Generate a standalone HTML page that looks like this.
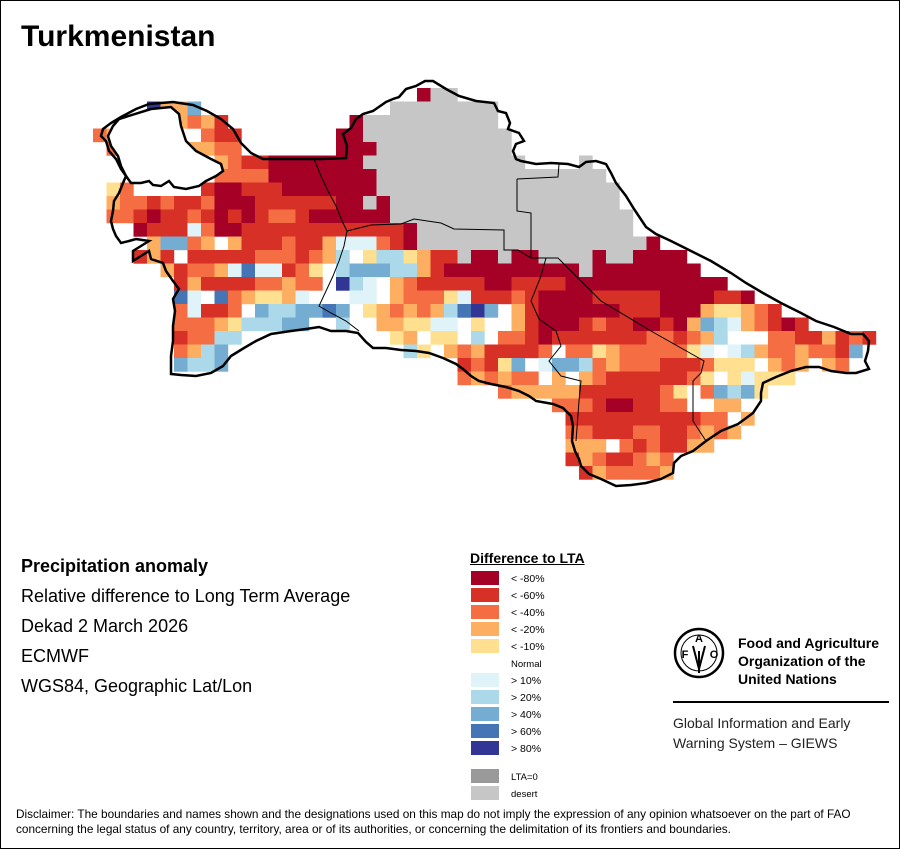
<!DOCTYPE html>
<html><head><meta charset="utf-8">
<style>
html,body{margin:0;padding:0;background:#fff;}
#wrap{position:relative;width:898px;height:847px;border:1px solid #000;overflow:hidden;font-family:"Liberation Sans",sans-serif;}
.t{position:absolute;white-space:nowrap;color:#000;}
</style></head><body>
<div id="wrap">
<svg id="map" width="898" height="847" style="position:absolute;left:0;top:0"></svg>
<div class="t" style="left:20px;top:19px;font-size:30px;font-weight:bold;">Turkmenistan</div>
<div class="t" style="left:20px;top:555px;font-size:18px;font-weight:bold;">Precipitation anomaly</div>
<div class="t" style="left:20px;top:585px;font-size:18px;">Relative difference to Long Term Average</div>
<div class="t" style="left:20px;top:615px;font-size:18px;">Dekad 2 March 2026</div>
<div class="t" style="left:20px;top:645px;font-size:18px;">ECMWF</div>
<div class="t" style="left:20px;top:675px;font-size:18px;">WGS84, Geographic Lat/Lon</div>
<div class="t" style="left:469px;top:549px;font-size:14px;font-weight:bold;text-decoration:underline;">Difference to LTA</div>
<div class="t" style="left:737px;top:633px;font-size:14px;font-weight:bold;line-height:18px;">Food and Agriculture<br>Organization of the<br>United Nations</div>
<div style="position:absolute;left:672px;top:700px;width:216px;height:2px;background:#000;"></div>
<div class="t" style="left:672px;top:712px;font-size:14px;line-height:20px;color:#222;">Global Information and Early<br>Warning System – GIEWS</div>
<div class="t" style="left:15px;top:806px;font-size:11.8px;line-height:15px;">Disclaimer: The boundaries and names shown and the designations used on this map do not imply the expression of any opinion whatsoever on the part of FAO<br>concerning the legal status of any country, territory, area or of its authorities, or concerning the delimitation of its frontiers and boundaries.</div>
</div>
<script>
var C={D:"#a50026",R:"#d73027",O:"#f46d43",o:"#fdae61",y:"#fee090",N:"#ffffff",l:"#e0f3f8",b:"#abd9e9",m:"#74add1",B:"#4575b4",V:"#313695",g:"#c6c6c6",G:"#999999"};
var S=[
[0,24,"Dgg"],
[1,4,"Voom"],[1,22,"gggggggg"],
[2,5,"ooOoR"],[2,19,"Dgggggggggg"],
[3,0,"Oo"],[3,8,"ORR"],[3,18,"DDggggggggggg"],
[4,1,"O"],[4,7,"ooOO"],[4,18,"DDDgggggggggg"],
[5,9,"oORRDDDDDDD"],[5,20,"gggggggggggg"],[5,36,"g"],
[6,9,"OOOODDDDDDDD"],[6,21,"ggggggggggggggggg"],
[7,1,"yO"],[7,8,"RDDRRRDDDDDDD"],[7,21,"gggggggggggggggggg"],
[8,1,"oOORORRODDDRRRRRRDDgD"],[8,22,"ggggggggggggggggg"],
[9,1,"OORDRRORDRDROORDDDDDD"],[9,22,"gggggggggggggggggg"],
[10,3,"DRRRlODDRRRRRRRRRRRRD"],[10,24,"gggggggggggggggg"],
[11,4,"ommOoNoRRRORRolllORD"],[11,24,"ggggggggggggggggg"],[11,41,"D"],
[12,3,"RoRNRRRRROOOROobLybbyoRRgDDgDDggggDggDDDD"],
[13,5,"oROOolBllROyNbmmmbboRDDDDDDDDDDgDDDDDDDD"],
[14,6,"RoRRRROOoOONVblNoORRRRRDDRRRRDDDDDDDDDDDD"],
[15,6,"BlNBOoyyolNNNllNoOOOylRRRORDDDDRRRRRDDDDRRD"],
[16,6,"OlRRONmbbmmBmNyoOoOobBVmNoRDDDDDDRRRDDDoyyoOR"],
[17,6,"OOOoybbbmmNNbNNooyyllNyNNoRDDDRORRDDRDombloORDR"],
[18,6,"ROObb"],[18,22,"yoNyyNbNOORDRRRRRRROOROobNNNOORRoROR"],
[19,6,"Oobm"],[19,23,"byNoOoRRRRONOOyoOOOOOylNlboOOoOORm"],
[20,6,"mbbm"],[20,27,"RORymNlmmbOoOOORRROyyyNoOoNoO"],
[21,27,"OoOoOONoNoORRRRRROyNylyyy"],
[22,30,"OoooooRRRRRROyNOmbmy"],
[23,34,"OOORDDRROONNooN"],
[24,35,"RRRRRRRRRROONo"],
[25,35,"OORRROORROoOo"],
[26,35,"oooNORORRoo"],
[27,35,"RoORROoO"],
[28,36,"RoOOOOo"]
];
var svg=document.getElementById("map"),h="";
S.forEach(function(s){var r=s[0],c=s[1],t=s[2];for(var i=0;i<t.length;i++){var k=t[i];if(k=="N"||!C[k])continue;h+='<rect x="'+(92+13.5*(c+i)).toFixed(1)+'" y="'+(87+13.5*r).toFixed(1)+'" width="13.7" height="13.7" fill="'+C[k]+'"/>';}});
var outer="148,103 172,101 192,104 206,110 220,118 232,128 240,142 250,152 262,158 290,158 320,158 345,157 346,145 342,133 350,127 355,118 362,113 372,110 385,101 392,98 398,96 405,88 415,85 424,80 432,80 445,88 458,95 475,100 493,102 497,110 505,112 509,122 507,128 518,132 523,140 515,143 512,150 515,158 520,160 535,163 550,162 567,163 578,166 585,161 595,160 605,163 610,172 615,182 625,195 633,208 645,226 655,233 670,240 690,250 710,260 730,272 745,282 762,292 780,302 800,312 815,320 833,326 850,333 862,333 868,340 867,350 864,360 868,368 855,372 845,372 830,370 818,366 805,366 790,370 775,376 762,382 760,392 760,400 752,412 737,423 720,430 705,440 692,450 680,455 673,462 672,472 660,478 645,482 630,484 615,485 600,478 588,473 580,465 578,458 574,450 571,440 572,425 570,415 562,407 552,403 535,400 528,395 518,390 505,386 490,383 478,380 470,375 462,368 455,363 442,357 428,352 415,350 400,349 385,347 372,347 365,341 357,332 345,330 330,330 318,326 305,328 290,330 270,333 255,340 243,347 230,355 222,365 210,372 195,375 180,374 170,373 170,355 172,340 172,325 174,310 172,298 178,288 172,280 165,270 162,262 150,258 148,250 140,255 132,260 132,250 140,245 148,240 135,238 128,240 120,242 115,235 112,228 110,220 112,210 113,200 118,192 122,182 125,175 120,168 115,158 108,150 105,140 100,135 102,128 110,122 120,116 135,108 148,103";
var bay="118,118 150,108 170,106 178,113 180,125 185,140 195,150 210,158 220,163 222,170 215,175 205,180 198,185 185,188 173,186 168,180 160,185 152,184 148,180 140,182 130,182 125,175 120,165 117,155 110,145 107,135 112,125 118,118";
h+='<polygon points="'+bay+'" fill="#fff" stroke="#000" stroke-width="2.5"/>';
h+='<polyline points="'+outer+'" fill="none" stroke="#000" stroke-width="2.5"/>';
var inner=["313,158 320,175 327,190 335,205 342,222 346,230 343,245 338,260 332,275 325,290 318,305 330,312 345,320 358,330",
"346,230 370,224 400,223 413,218 440,222 453,228 503,229 503,249 517,249 530,257 557,257 600,300 650,330 703,360 700,372 692,380 692,420 705,440",
"516,178 557,176 558,163","516,178 516,210 530,212 530,257",
"545,257 540,275 530,300 538,318 555,330 560,345 548,360 560,375 580,380 578,400 575,440"];
inner.forEach(function(p){h+='<polyline points="'+p+'" fill="none" stroke="#000" stroke-width="1"/>';});
var L=[["D","< -80%"],["R","< -60%"],["O","< -40%"],["o","< -20%"],["y","< -10%"],["","Normal"],["l","> 10%"],["b","> 20%"],["m","> 40%"],["B","> 60%"],["V","> 80%"]];
L.forEach(function(e,i){var y=570+17*i;if(e[0])h+='<rect x="470" y="'+y+'" width="28" height="14" fill="'+C[e[0]]+'"/>';h+='<text x="510" y="'+(y+11)+'" font-family="Liberation Sans" font-size="'+(e[0]?10.5:9.5)+'">'+e[1].replace("<","&lt;").replace(">","&gt;")+'</text>';});
h+='<rect x="470" y="768" width="28" height="14" fill="#999"/><text x="510" y="779" font-family="Liberation Sans" font-size="9.5">LTA=0</text>';
h+='<rect x="470" y="785" width="28" height="14" fill="#c6c6c6"/><text x="510" y="796" font-family="Liberation Sans" font-size="9.5">desert</text>';
h+='<circle cx="698" cy="652" r="24" fill="none" stroke="#000" stroke-width="2.5"/><circle cx="698" cy="652" r="18" fill="none" stroke="#000" stroke-width="1"/>';
h+='<text x="698" y="641" text-anchor="middle" font-family="Liberation Sans" font-weight="bold" font-size="11">A</text><text x="684" y="657" text-anchor="middle" font-family="Liberation Sans" font-weight="bold" font-size="11">F</text><text x="713" y="657" text-anchor="middle" font-family="Liberation Sans" font-weight="bold" font-size="11">O</text>';
h+='<path d="M692 645 L698 668 L704 645 M698 650 L698 672" stroke="#000" stroke-width="2" fill="none"/>';
svg.innerHTML=h;
</script>
</body></html>
